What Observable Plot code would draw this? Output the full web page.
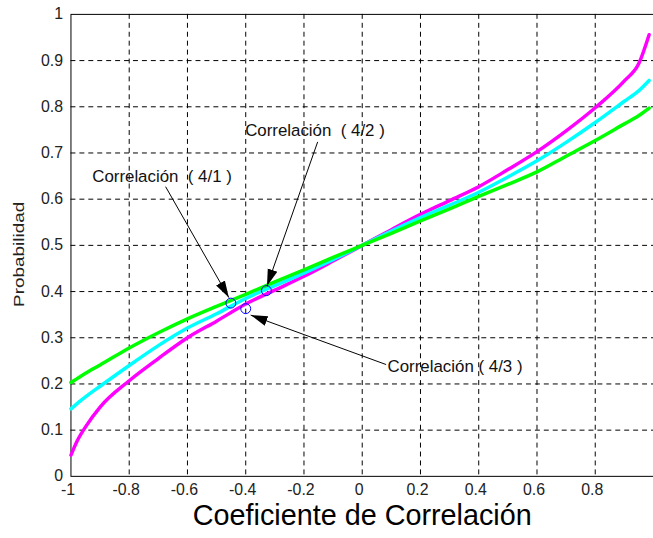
<!DOCTYPE html>
<html><head><meta charset="utf-8">
<script src="https://cdn.jsdelivr.net/npm/d3@7"></script>
<script src="https://cdn.jsdelivr.net/npm/@observablehq/plot@0.6"></script>
<style>
html,body{margin:0;padding:0;background:#fff;overflow:hidden;}
#chart{width:653px;height:538px;overflow:hidden;}
</style></head><body><div id="chart"></div>
<script>
// Coeficiente de correlación (x)
const corr = [-1, -0.98, -0.95, -0.9, -0.8, -0.7, -0.6, -0.5, -0.4, -0.3, -0.2, -0.1, 0, 0.1, 0.2, 0.3, 0.4, 0.5, 0.6, 0.7, 0.8, 0.9, 0.95, 0.985];
// Probabilidad per curve
const probMagenta = [0.046, 0.075, 0.107, 0.150, 0.207, 0.255, 0.300, 0.336, 0.373, 0.403, 0.433, 0.466, 0.5, 0.534, 0.567, 0.597, 0.627, 0.664, 0.703, 0.748, 0.798, 0.856, 0.894, 0.956];
const probCyan    = [0.146, 0.157, 0.172, 0.195, 0.240, 0.283, 0.321, 0.352, 0.385, 0.413, 0.440, 0.469, 0.5, 0.531, 0.560, 0.587, 0.615, 0.648, 0.683, 0.723, 0.766, 0.812, 0.835, 0.857];
const probGreen   = [0.203, 0.211, 0.223, 0.241, 0.278, 0.311, 0.341, 0.368, 0.394, 0.421, 0.447, 0.474, 0.5, 0.526, 0.553, 0.579, 0.606, 0.632, 0.659, 0.693, 0.727, 0.763, 0.781, 0.797];
const seriesNames = ["s1", "s2", "s3"];
const seriesColors = ["#ff00ff", "#00ffff", "#00ff00"];

// Ticks
const xTicks = [-1, -0.8, -0.6, -0.4, -0.2, 0, 0.2, 0.4, 0.6, 0.8];
const xTickLabels = ["-1", "-0.8", "-0.6", "-0.4", "-0.2", "0", "0.2", "0.4", "0.6", "0.8"];
const xGrid = [-0.8, -0.6, -0.4, -0.2, 0, 0.2, 0.4, 0.6, 0.8];
const yTicks = [0, 0.1, 0.2, 0.3, 0.4, 0.5, 0.6, 0.7, 0.8, 0.9, 1];
const yTickLabels = ["0", "0.1", "0.2", "0.3", "0.4", "0.5", "0.6", "0.7", "0.8", "0.9", "1"];
const yGrid = [0.1, 0.2, 0.3, 0.4, 0.5, 0.6, 0.7, 0.8, 0.9];

// Annotations
const annLabels = ["Correlación\u00a0\u00a0( 4/1 )", "Correlación\u00a0\u00a0( 4/2 )", "Correlación ( 4/3 )"];
const annX = [-0.927, -0.402, 0.087];
const annY = [0.648, 0.748, 0.238];
const arrowFromX = [-0.675, -0.153, 0.082];
const arrowFromY = [0.627, 0.724, 0.242];
const arrowToX = [-0.458, -0.327, -0.383];
const arrowToY = [0.387, 0.412, 0.349];
const circleX = [-0.451, -0.329, -0.400];
const circleY = [0.375, 0.402, 0.363];

const xTitle = "Coeficiente de Correlación";
const yTitle = "Probabilidad";

const curves = seriesNames.flatMap((s, k) => {
  const vals = [probMagenta, probCyan, probGreen][k];
  return corr.map((c, i) => ({series: s, x: c, y: vals[i]}));
});
const anns = annLabels.map((t, i) => ({t, x: annX[i], y: annY[i]}));
const arrows = arrowFromX.map((v, i) => ({x1: v, y1: arrowFromY[i], x2: arrowToX[i], y2: arrowToY[i]}));
const circles = circleX.map((v, i) => ({x: v, y: circleY[i]}));

const plot = Plot.plot({
  width: 658, height: 538,
  marginLeft: 71, marginRight: 0, marginTop: 14, marginBottom: 58.5,
  style: {fontFamily: "Arial, 'Liberation Sans', sans-serif", background: "#fff", color: "#000", overflow: "visible"},
  x: {domain: [-1, 1]},
  y: {domain: [0, 1]},
  color: {domain: seriesNames, range: seriesColors},
  marks: [
    Plot.gridX(xGrid, {stroke: "#000", strokeOpacity: 1, strokeDasharray: "5,4", strokeWidth: 1}),
    Plot.gridY(yGrid, {stroke: "#000", strokeOpacity: 1, strokeDasharray: "5,4", strokeWidth: 1}),
    Plot.frame({stroke: "#000", strokeWidth: 1}),
    Plot.axisX(xTicks, {tickSize: 0, tickPadding: 7, fontSize: 16, fill: "#222", dx: -3,
      tickFormat: d => xTickLabels[xTicks.indexOf(d)], label: null}),
    Plot.axisY(yTicks, {tickSize: 0, tickPadding: 8, fontSize: 16, fill: "#222",
      tickFormat: d => yTickLabels[yTicks.indexOf(d)], label: null}),
    Plot.line(curves, {x: "x", y: "y", z: "series", stroke: "series", strokeWidth: 3.5, curve: "monotone-x"}),
    Plot.dot(circles, {x: "x", y: "y", r: 5, stroke: "#0000ff", fill: "none", strokeWidth: 1}),
    Plot.link(arrows, {x1: "x1", y1: "y1", x2: "x2", y2: "y2", stroke: "#000", strokeWidth: 1, markerEnd: "arrow"}),
    Plot.text(anns, {x: "x", y: "y", text: "t", textAnchor: "start", fontSize: 17, fill: "#111"}),
    Plot.text([xTitle], {frameAnchor: "bottom", lineAnchor: "middle", textAnchor: "middle", dy: 40, fontSize: 29, fill: "#000"}),
    Plot.text([yTitle], {frameAnchor: "left", lineAnchor: "middle", textAnchor: "middle", rotate: -90, dx: -52, dy: 9, fontSize: 15, fill: "#222"})
  ]
});

// Filled arrowheads for the annotation arrows
plot.querySelectorAll("marker").forEach(m => {
  m.setAttribute("viewBox", "-10 -5 10 10");
  m.setAttribute("markerWidth", "17");
  m.setAttribute("markerHeight", "17");
  m.setAttribute("fill", "#000");
  m.setAttribute("stroke", "none");
  m.querySelectorAll("path").forEach(p => p.setAttribute("d", "M-10,-3L0,0L-10,3Z"));
});
// Stretch the y title horizontally like the reference
plot.querySelectorAll("text").forEach(t => {
  if (t.textContent === yTitle) { t.setAttribute("textLength", "106"); t.setAttribute("lengthAdjust", "spacingAndGlyphs"); }
});

document.getElementById("chart").appendChild(plot);
</script></body></html>
